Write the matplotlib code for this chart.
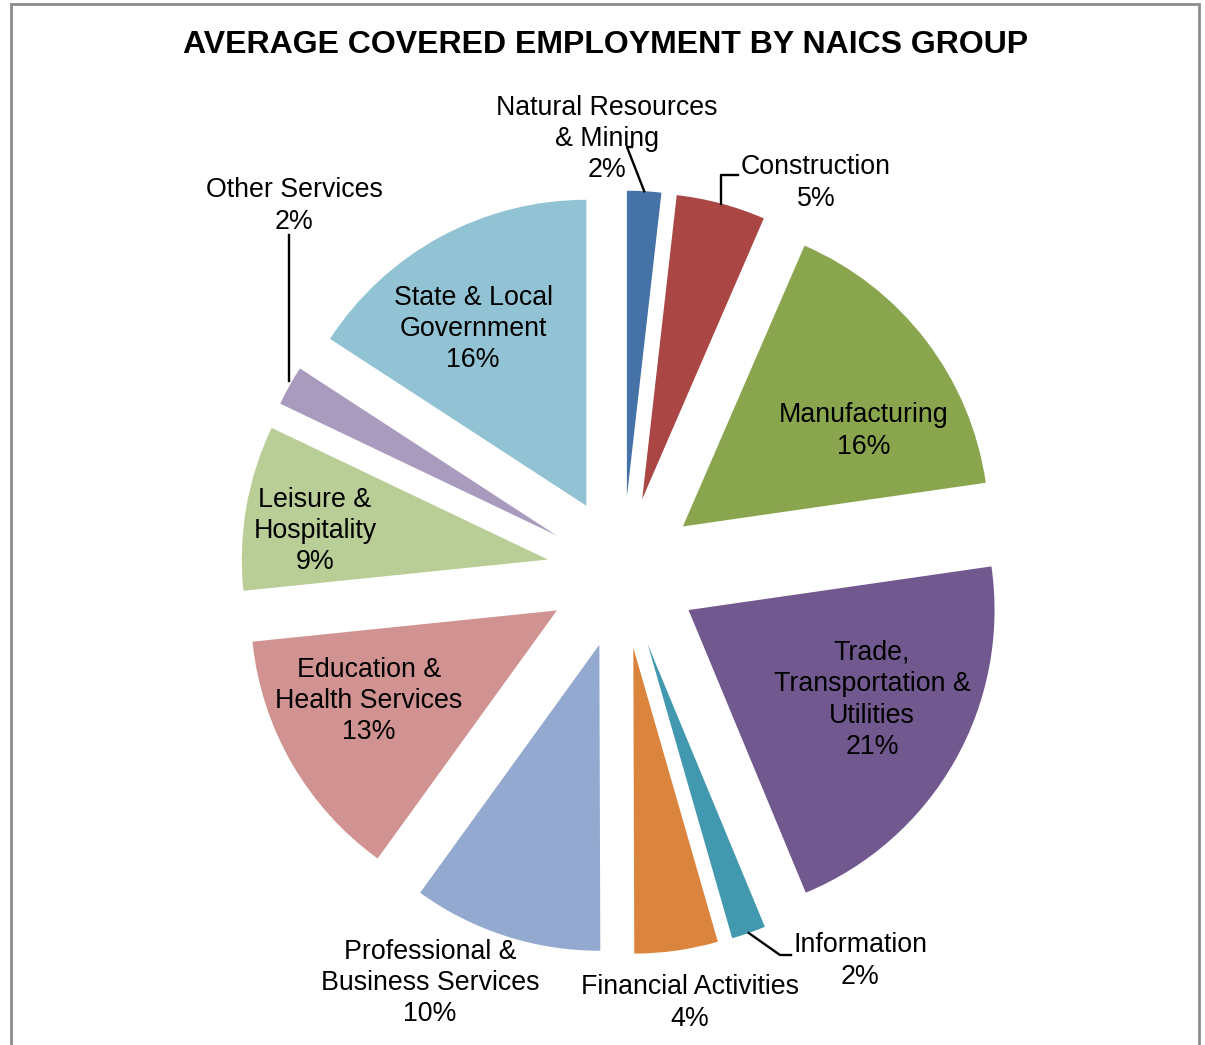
import numpy as np
import matplotlib
matplotlib.use("Agg")
import matplotlib.pyplot as plt
from matplotlib.patches import Rectangle

plt.rcParams['font.family'] = ['Liberation Sans', 'DejaVu Sans']

# data (clockwise from 12 o'clock)
groups = ["Natural Resources\n& Mining", "Construction", "Manufacturing",
          "Trade,\nTransportation &\nUtilities", "Information", "Financial Activities",
          "Professional &\nBusiness Services", "Education &\nHealth Services",
          "Leisure &\nHospitality", "Other Services", "State & Local\nGovernment"]
shares = [1.8, 4.7, 16.2, 21.0, 1.8, 4.4, 10.0, 13.4, 8.7, 2.1, 15.8]
colors = ["#4572A7", "#AA4643", "#89A54E", "#71588F", "#4198AF", "#DB843D",
          "#93A9CF", "#D19392", "#B9CD96", "#A99BBD", "#92C3D4"]

W, H = 1205, 1045
CX, CY, R = 622.6, 572.5, 306.0   # pie centre / radius in pixels


def px(x, y):  # pixel -> data units
    return (x - CX) / R, (CY - y) / R


fig = plt.figure(figsize=(W / 100, H / 100), dpi=100)
ax = fig.add_axes([0, 0, 1, 1])

wedges, _ = ax.pie(shares, explode=[0.248] * len(shares), colors=colors,
                   startangle=90, counterclock=False, radius=1,
                   wedgeprops=dict(linewidth=0))
ax.set_xlim(-CX / R, (W - CX) / R)
ax.set_ylim(-(H - CY) / R, CY / R)
ax.set_aspect('equal')
ax.axis('off')

# label centres in pixels
label_pos = [(607, 139), (816, 183), (864, 431), (872, 700), (860, 961), (690, 1003),
             (430, 983), (369, 701), (315, 531), (294, 206), (473, 329)]

for name, v, (lx, ly) in zip(groups, shares, label_pos):
    x, y = px(lx, ly)
    ax.text(x, y, f"{name}\n{round(v)}%", ha='center', va='center',
            fontsize=19.3, linespacing=1.27, color='black')


def arc_mid(w):
    t = np.radians((w.theta1 + w.theta2) / 2)
    return w.center[0] + w.r * np.cos(t), w.center[1] + w.r * np.sin(t)


# leader lines for the small slices
lw = 1.7
sx, sy = arc_mid(wedges[0])
ax.plot([sx, px(627, 147)[0], px(632, 147)[0]], [sy, px(0, 147)[1], px(0, 147)[1]],
        color='black', lw=lw)

sx, sy = arc_mid(wedges[1])
ax.plot([sx, sx, px(738, 0)[0]], [sy, px(0, 175)[1], px(0, 175)[1]],
        color='black', lw=lw)

sx, sy = arc_mid(wedges[4])
ax.plot([sx, px(780, 0)[0], px(791, 0)[0]], [sy, px(0, 955)[1], px(0, 955)[1]],
        color='black', lw=lw)

sx, sy = arc_mid(wedges[9])
ax.plot([sx, sx], [sy + 0.015, px(0, 235)[1]], color='black', lw=lw)

fig.text(606 / W, 1 - 45 / H, "AVERAGE COVERED EMPLOYMENT BY NAICS GROUP",
         ha='center', va='center', fontsize=23, fontweight='bold')

fig.add_artist(Rectangle((11 / W, -0.05), (1199 - 11) / W, 1.05 - 4 / H,
                         transform=fig.transFigure, fill=False,
                         edgecolor='#8c8c8c', lw=2))

fig.savefig("out.png", dpi=100)
